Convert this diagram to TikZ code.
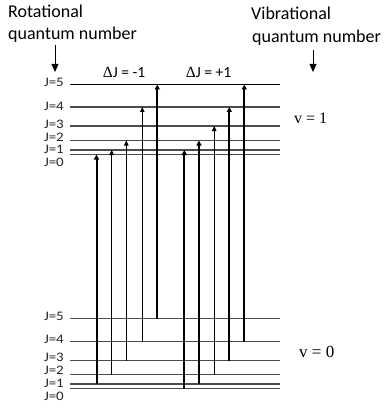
\documentclass[tikz,border=0pt]{standalone}
\usepackage{fontspec}
\setmainfont{Carlito}
\newfontfamily\seriffont{Liberation Serif}
\usetikzlibrary{arrows.meta}
\newcommand{\jtxt}[1]{\scalebox{1.15}[1]{#1}}
\tikzset{
  lvl/.style={draw=black!70, line width=1.5pt},
  lvltop/.style={draw=black, line width=1.5pt},
  jlab/.style={anchor=east, inner sep=0pt, font=\fontsize{13}{13}\selectfont, text=black!85},
  trthick/.style={draw=black, line width=2pt, -{Triangle[length=5pt,width=5pt]}},
  trthin/.style={draw=black, line width=0.9pt, -{Triangle[length=5pt,width=4.5pt]}},
  ptr/.style={draw=black, line width=0.8pt, -{Triangle[length=8pt,width=7pt]}},
  title/.style={anchor=base west, inner sep=0pt, font=\fontsize{18}{18}\selectfont},
  dlab/.style={inner sep=0pt, font=\fontsize{15.5}{15.5}\selectfont},
}
\begin{document}
\begin{tikzpicture}[x=1pt,y=-1pt]
\useasboundingbox (0,0) rectangle (384,409);
% titles
\node[title] (rot1) at (8,18) {Rotational};
\node[title] (rot2) at (8,40) {quantum number};
\node[title] (vib1) at (251,20) {Vibrational};
\node[title] (vib2) at (252,43) {quantum number};
\coordinate (rotA) at (55,45);
\coordinate (rotB) at (55,72);
\coordinate (vibA) at (313,50);
\coordinate (vibB) at (313,72);
\draw[ptr] (rotA) -- (rotB);
\draw[ptr] (vibA) -- (vibB);
% delta J labels
\node[dlab] (dm) at (124,72) {{\seriffont Δ}J = -1};
\node[dlab] (dp) at (208.5,72) {{\seriffont Δ}J = +1};
% upper levels (v=1)
\foreach \j/\y in {4/107,3/126,2/140.5,1/150,0/154.5}{
  \coordinate (u\j L) at (70,\y);
  \coordinate (u\j R) at (280,\y);
  \draw[lvl] (u\j L) -- (u\j R);
}
\coordinate (u5L) at (70,84.5);
\coordinate (u5R) at (280,84.5);
\draw[lvltop] (u5L) -- (u5R);
% lower levels (v=0)
\foreach \j/\y in {5/318.5,4/341.5,3/360.5,2/374.5,1/384,0/388.5}{
  \coordinate (l\j L) at (70,\y);
  \coordinate (l\j R) at (280,\y);
  \draw[lvl] (l\j L) -- (l\j R);
}
% J labels
\node[jlab] (ju5) at (64,82) {\jtxt{J=5}};
\node[jlab] (ju4) at (64,106) {\jtxt{J=4}};
\node[jlab] (ju3) at (64,124.5) {\jtxt{J=3}};
\node[jlab] (ju2) at (64,137) {\jtxt{J=2}};
\node[jlab] (ju1) at (64,149.5) {\jtxt{J=1}};
\node[jlab] (ju0) at (64,162) {\jtxt{J=0}};
\node[jlab] (jl5) at (64,316) {\jtxt{J=5}};
\node[jlab] (jl4) at (64,339) {\jtxt{J=4}};
\node[jlab] (jl3) at (64,357.5) {\jtxt{J=3}};
\node[jlab] (jl2) at (64,370) {\jtxt{J=2}};
\node[jlab] (jl1) at (64,383) {\jtxt{J=1}};
\node[jlab] (jl0) at (64,396.5) {\jtxt{J=0}};
% v labels
\node[anchor=west, inner sep=0pt, font=\seriffont\fontsize{16}{16}\selectfont] (v1) at (294,118) {v = 1};
\node[anchor=west, inner sep=0pt, font=\seriffont\fontsize{17}{17}\selectfont] (v0) at (299,352) {v = 0};
% transitions dJ = -1
\coordinate (a1b) at (96.5,384);   \coordinate (a1t) at (96.5,154.5);
\coordinate (a2b) at (111.7,374.5); \coordinate (a2t) at (111.7,150);
\coordinate (a3b) at (126.3,360.5); \coordinate (a3t) at (126.3,140.5);
\coordinate (a4b) at (142.3,341.5); \coordinate (a4t) at (142.3,107);
\coordinate (a5b) at (157.3,318.5); \coordinate (a5t) at (157.3,84.5);
\draw[trthick] (a1b) -- (a1t);
\draw[trthin] (a2b) -- (a2t);
\draw[trthin] (a3b) -- (a3t);
\draw[trthin] (a4b) -- (a4t);
\draw[trthick] (a5b) -- (a5t);
% transitions dJ = +1
\coordinate (b1b) at (184.3,388.5); \coordinate (b1t) at (184.3,150);
\coordinate (b2b) at (199,384);     \coordinate (b2t) at (199,140.5);
\coordinate (b3b) at (214.2,374.5); \coordinate (b3t) at (214.2,126);
\coordinate (b4b) at (229.3,360.5); \coordinate (b4t) at (229.3,107);
\coordinate (b5b) at (244.3,341.5); \coordinate (b5t) at (244.3,84.5);
\draw[trthick] (b1b) -- (b1t);
\draw[trthick] (b2b) -- (b2t);
\draw[trthin] (b3b) -- (b3t);
\draw[trthick] (b4b) -- (b4t);
\draw[trthick] (b5b) -- (b5t);
\end{tikzpicture}
\end{document}
